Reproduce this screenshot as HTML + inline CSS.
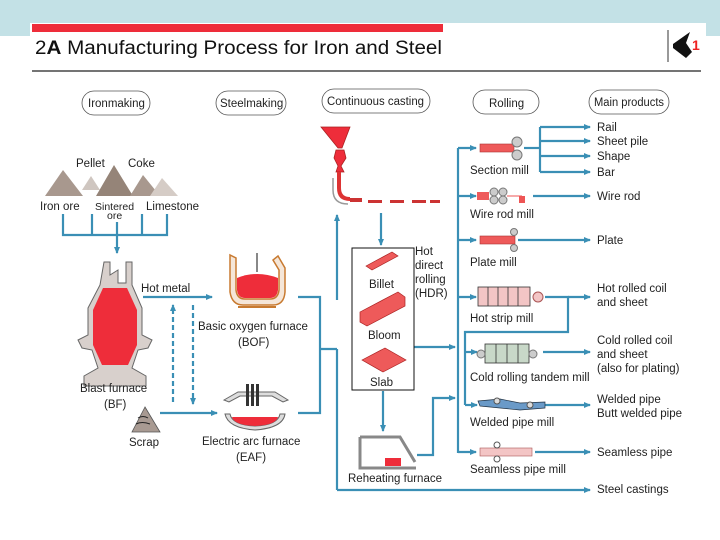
<!DOCTYPE html>
<html><head><meta charset="utf-8"><style>
html,body{margin:0;padding:0;width:720px;height:540px;overflow:hidden;background:#fff}
svg{display:block}
text{font-family:"Liberation Sans",sans-serif;font-size:11.5px;fill:#222}
</style></head><body>
<svg width="720" height="540" viewBox="0 0 720 540" xmlns="http://www.w3.org/2000/svg">
<defs>
<marker id="a" markerWidth="8" markerHeight="8" refX="6" refY="3" orient="auto" markerUnits="userSpaceOnUse"><path d="M0,0 L7,3 L0,6 z" fill="#3a8fb5"/></marker>
</defs>
<rect x="0" y="0" width="720" height="36" fill="#c3e1e6"/>
<rect x="30" y="23" width="676" height="517" fill="#fff"/>
<rect x="32" y="24" width="411" height="8" fill="#ee2d3a"/>
<text x="35" y="54" style="font-size:19px;fill:#111" textLength="407" lengthAdjust="spacingAndGlyphs">2<tspan font-weight="bold">A</tspan>  Manufacturing Process for Iron and Steel</text>
<line x1="668" y1="30" x2="668" y2="62" stroke="#333" stroke-width="1"/>
<path d="M673,44 L690,32 L686,43 L692,52 L686,58 L673,48 z" fill="#111"/>
<text x="692" y="50" style="font-size:14px;fill:#e22;font-weight:bold">1</text>
<line x1="32" y1="71" x2="701" y2="71" stroke="#222" stroke-width="1.2"/>
<g fill="none" stroke="#555" stroke-width="0.8">
<rect x="82" y="91" width="68" height="24" rx="12"/>
<rect x="216" y="91" width="70" height="24" rx="12"/>
<rect x="322" y="89" width="108" height="24" rx="12"/>
<rect x="473" y="90" width="66" height="24" rx="12"/>
<rect x="589" y="90" width="80" height="24" rx="12"/>
</g>
<text x="88" y="107">Ironmaking</text>
<text x="220" y="107">Steelmaking</text>
<text x="327" y="105" textLength="97" lengthAdjust="spacingAndGlyphs">Continuous casting</text>
<text x="489" y="107">Rolling</text>
<text x="594" y="106" textLength="70" lengthAdjust="spacingAndGlyphs">Main products</text>
<!-- raw materials -->
<text x="76" y="167">Pellet</text><text x="128" y="167">Coke</text>
<polygon points="63,170 45,196 83,196" fill="#a8988e"/>
<polygon points="91,176 82,190 100,190" fill="#cfc6c0"/>
<polygon points="114,165 96,196 133,196" fill="#958478"/>
<polygon points="143,175 130,196 160,196" fill="#a8988e"/>
<polygon points="162,178 150,196 178,196" fill="#d5ccc6"/>
<text x="40" y="210">Iron ore</text>
<text x="95" y="210" style="font-size:10.5px">Sintered</text><text x="107" y="219" style="font-size:10.5px">ore</text>
<text x="146" y="210">Limestone</text>
<g stroke="#3a8fb5" stroke-width="2.2" fill="none">
<polyline points="63,214 63,235 167,235 167,214"/>
<line x1="92" y1="214" x2="92" y2="235"/><line x1="142" y1="214" x2="142" y2="235"/>
<line x1="117" y1="222" x2="117" y2="253" marker-end="url(#a)"/>
<line x1="143" y1="297" x2="212" y2="297" marker-end="url(#a)"/>
<line x1="160" y1="413" x2="217" y2="413" marker-end="url(#a)"/>
<line x1="173" y1="402" x2="173" y2="305" stroke-dasharray="5,3" marker-end="url(#a)"/>
<line x1="193" y1="305" x2="193" y2="404" stroke-dasharray="5,3" marker-end="url(#a)"/>
<polyline points="298,297 320,297 320,413 298,413"/>
<line x1="320" y1="349" x2="337" y2="349"/>
<polyline points="337,490 337,349"/>
<line x1="337" y1="300" x2="337" y2="215" marker-end="url(#a)"/>
<line x1="337" y1="490" x2="590" y2="490" marker-end="url(#a)"/>
<line x1="381" y1="213" x2="381" y2="245" marker-end="url(#a)"/>
<line x1="383" y1="391" x2="383" y2="431" marker-end="url(#a)"/>
<line x1="414" y1="347" x2="455" y2="347" marker-end="url(#a)"/>
<polyline points="417,455 433,455 433,398 455,398" marker-end="url(#a)"/>
<line x1="458" y1="148" x2="458" y2="453"/>
<line x1="458" y1="148" x2="476" y2="148" marker-end="url(#a)"/>
<line x1="458" y1="196" x2="476" y2="196" marker-end="url(#a)"/>
<line x1="458" y1="240" x2="476" y2="240" marker-end="url(#a)"/>
<line x1="458" y1="297" x2="476" y2="297" marker-end="url(#a)"/>
<line x1="458" y1="452" x2="476" y2="452" marker-end="url(#a)"/>
<polyline points="545,297 568,297 568,332 465,332 465,405"/>
<line x1="465" y1="352" x2="477" y2="352" marker-end="url(#a)"/>
<line x1="465" y1="405" x2="477" y2="405" marker-end="url(#a)"/>
<line x1="524" y1="148" x2="540" y2="148"/>
<line x1="540" y1="127" x2="540" y2="172"/>
<line x1="540" y1="127" x2="590" y2="127" marker-end="url(#a)"/>
<line x1="540" y1="141" x2="590" y2="141" marker-end="url(#a)"/>
<line x1="540" y1="156" x2="590" y2="156" marker-end="url(#a)"/>
<line x1="540" y1="172" x2="590" y2="172" marker-end="url(#a)"/>
<line x1="533" y1="196" x2="590" y2="196" marker-end="url(#a)"/>
<line x1="518" y1="240" x2="590" y2="240" marker-end="url(#a)"/>
<line x1="568" y1="297" x2="590" y2="297" marker-end="url(#a)"/>
<line x1="543" y1="352" x2="590" y2="352" marker-end="url(#a)"/>
<line x1="545" y1="405" x2="590" y2="405" marker-end="url(#a)"/>
<line x1="535" y1="452" x2="590" y2="452" marker-end="url(#a)"/>
</g>
<!-- blast furnace -->
<path d="M104,262 L110,262 L110,275 L118,270 L118,283 L126,283 L126,262 L132,262 L132,285 L142,308 L142,335 L152,340 L148,348 L138,350 L132,368 L146,376 L146,386 L84,386 L84,376 L98,368 L92,350 L82,348 L78,340 L88,335 L88,308 L100,285 z" fill="#d8d0cc" stroke="#666" stroke-width="1"/>
<path d="M103,288 L127,288 L137,310 L137,345 L128,365 L102,365 L93,345 L93,310 z" fill="#ee2d3a"/>
<text x="80" y="392">Blast furnace</text><text x="104" y="408">(BF)</text>
<text x="141" y="292">Hot metal</text>
<polygon points="145,407 132,432 160,432" fill="#a89a92" stroke="#555" stroke-width="0.8"/>
<path d="M138,418 q5,-3 10,0 M136,424 q6,-3 14,0" stroke="#222" fill="none"/>
<text x="129" y="446">Scrap</text>
<!-- BOF -->
<path d="M230,255 L230,292 Q232,305 243,305 L273,305 Q284,305 285,292 L285,268 L278,256 L273,260 L279,270 L279,290 Q278,299 270,299 L245,299 Q237,299 236,290 L236,258 z" fill="#f5e6d8" stroke="#c87a30" stroke-width="1.5"/>
<path d="M237,278 Q257,270 278,278 L278,290 Q277,298 270,298 L245,298 Q238,298 237,290 z" fill="#ee2d3a"/>
<line x1="257" y1="253" x2="257" y2="272" stroke="#888" stroke-width="2"/>
<line x1="238" y1="307" x2="276" y2="307" stroke="#c87a30" stroke-width="2"/>
<text x="198" y="330">Basic oxygen furnace</text><text x="238" y="346">(BOF)</text>
<!-- EAF -->
<path d="M224,400 L238,392 L275,392 L288,400 L283,402 L272,396 L240,396 L229,402 z" fill="#ddd" stroke="#666"/>
<rect x="246" y="384" width="3" height="22" fill="#333"/><rect x="251" y="384" width="3" height="22" fill="#333"/><rect x="256" y="384" width="3" height="22" fill="#333"/>
<path d="M225,414 Q228,428 255,430 Q283,428 285,414 L280,414 Q278,425 255,426 Q232,425 230,414 z" fill="#ddd" stroke="#666"/>
<path d="M232,417 L278,417 Q276,425 255,426 Q234,425 232,417 z" fill="#ee2d3a"/>
<text x="202" y="445">Electric arc furnace</text><text x="236" y="461">(EAF)</text>
<!-- continuous casting -->
<polygon points="321,127 350,127 342,148 338,148" fill="#ee2d3a" stroke="#a22" stroke-width="0.8"/>
<polygon points="336,150 344,150 346,158 341,166 344,172 336,172 338,166 334,158" fill="#ee2d3a" stroke="#a22" stroke-width="0.8"/>
<path d="M339,172 L339,188 Q339,199 350,199" fill="none" stroke="#d33" stroke-width="4"/>
<path d="M333,178 L333,190 Q333,204 348,204" fill="none" stroke="#999" stroke-width="1.5"/>
<g fill="#c33"><rect x="350" y="198" width="12" height="4"/><rect x="368" y="200" width="14" height="3"/><rect x="390" y="200" width="14" height="3"/><rect x="412" y="200" width="14" height="3"/><rect x="430" y="200" width="10" height="3"/></g>
<!-- semi box -->
<rect x="352" y="248" width="62" height="142" fill="#fff" stroke="#111" stroke-width="1"/>
<polygon points="366,266 392,252 398,256 372,270" fill="#ee5a5a" stroke="#a22" stroke-width="0.7"/>
<text x="369" y="288">Billet</text>
<polygon points="360,312 398,292 405,297 405,306 367,326 360,322" fill="#ee5a5a" stroke="#a22" stroke-width="0.7"/>
<text x="368" y="339">Bloom</text>
<polygon points="362,360 385,348 406,360 383,372" fill="#ee5a5a" stroke="#a22" stroke-width="0.7"/>
<text x="370" y="386">Slab</text>
<text x="415" y="255">Hot</text><text x="415" y="269">direct</text><text x="415" y="283">rolling</text><text x="415" y="297">(HDR)</text>
<!-- reheating furnace -->
<path d="M360,437 L360,468 L416,468 M360,437 L400,437 L415,462" fill="none" stroke="#888" stroke-width="3"/>
<rect x="385" y="458" width="16" height="8" fill="#ee2d3a"/>
<text x="348" y="482">Reheating furnace</text>
<!-- mills -->
<rect x="480" y="144" width="34" height="8" fill="#ee5a5a" stroke="#a33" stroke-width="0.6"/>
<circle cx="517" cy="142" r="5" fill="#ccc" stroke="#777"/><circle cx="517" cy="155" r="5" fill="#ccc" stroke="#777"/>
<text x="470" y="174">Section mill</text>
<rect x="477" y="192" width="12" height="8" fill="#ee5a5a"/>
<circle cx="494" cy="192" r="4" fill="#ccc" stroke="#777"/><circle cx="494" cy="200" r="4" fill="#ccc" stroke="#777"/><circle cx="503" cy="192" r="4" fill="#ccc" stroke="#777"/><circle cx="503" cy="200" r="4" fill="#ccc" stroke="#777"/>
<line x1="507" y1="196" x2="522" y2="196" stroke="#e55" stroke-width="1"/><rect x="519" y="196" width="6" height="7" fill="#e55"/>
<text x="470" y="218">Wire rod mill</text>
<rect x="480" y="236" width="35" height="8" fill="#ee5a5a" stroke="#a33" stroke-width="0.6"/>
<circle cx="514" cy="232" r="3.5" fill="#ccc" stroke="#777"/><circle cx="514" cy="248" r="3.5" fill="#ccc" stroke="#777"/>
<text x="470" y="266">Plate mill</text>
<rect x="478" y="287" width="52" height="19" fill="#f3c5c5" stroke="#333" stroke-width="0.8"/>
<g stroke="#333" stroke-width="0.8"><line x1="488" y1="287" x2="488" y2="306"/><line x1="498" y1="287" x2="498" y2="306"/><line x1="508" y1="287" x2="508" y2="306"/><line x1="518" y1="287" x2="518" y2="306"/></g>
<circle cx="538" cy="297" r="5" fill="#f3c5c5" stroke="#a55"/>
<text x="470" y="322">Hot strip mill</text>
<rect x="485" y="344" width="44" height="19" fill="#c8d8c8" stroke="#333" stroke-width="0.8"/>
<g stroke="#333" stroke-width="0.8"><line x1="496" y1="344" x2="496" y2="363"/><line x1="507" y1="344" x2="507" y2="363"/><line x1="518" y1="344" x2="518" y2="363"/></g>
<circle cx="481" cy="354" r="4" fill="#ccc" stroke="#777"/><circle cx="533" cy="354" r="4" fill="#ccc" stroke="#777"/>
<text x="470" y="381">Cold rolling tandem mill</text>
<path d="M478,401 L500,399 L520,403 L545,402 L545,408 L520,410 L500,408 L480,406 z" fill="#6a9ac8" stroke="#234" stroke-width="0.7"/>
<circle cx="497" cy="401" r="3" fill="#ddd" stroke="#555"/><circle cx="530" cy="405" r="3" fill="#ddd" stroke="#555"/>
<text x="470" y="426">Welded pipe mill</text>
<rect x="480" y="448" width="52" height="8" fill="#f3c5c5" stroke="#a55" stroke-width="0.6"/>
<circle cx="497" cy="445" r="3" fill="#fff" stroke="#555"/><circle cx="497" cy="459" r="3" fill="#fff" stroke="#555"/>
<text x="470" y="473">Seamless pipe mill</text>
<!-- products -->
<text x="597" y="131">Rail</text><text x="597" y="145">Sheet pile</text><text x="597" y="160">Shape</text><text x="597" y="176">Bar</text>
<text x="597" y="200">Wire rod</text>
<text x="597" y="244">Plate</text>
<text x="597" y="292">Hot rolled coil</text><text x="597" y="306">and sheet</text>
<text x="597" y="344">Cold rolled coil</text><text x="597" y="358">and sheet</text><text x="597" y="372">(also for plating)</text>
<text x="597" y="403">Welded pipe</text><text x="597" y="417">Butt welded pipe</text>
<text x="597" y="456">Seamless pipe</text>
<text x="597" y="493">Steel castings</text>
</svg>
</body></html>
